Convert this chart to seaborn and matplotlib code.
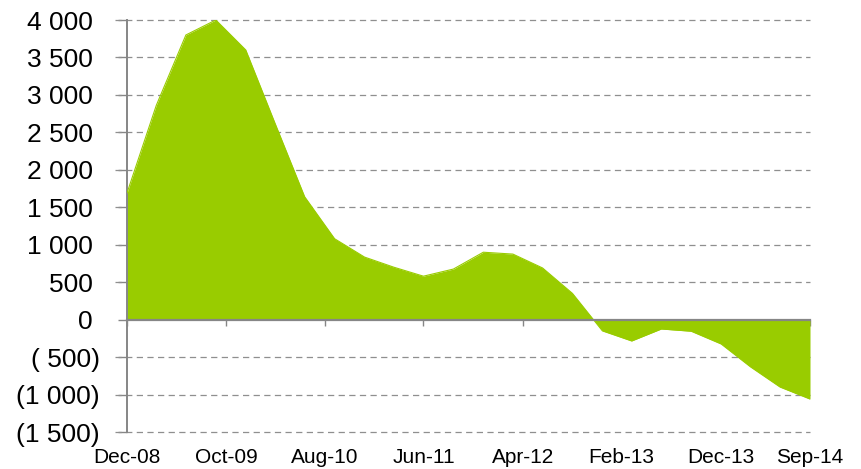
import matplotlib
matplotlib.use("Agg")
import matplotlib.pyplot as plt
import seaborn as sns
import pandas as pd

# ---- data ----
quarters = pd.date_range("2008-12-31", periods=24, freq="QE")
values = [1690, 2860, 3800, 4000, 3600, 2620, 1640, 1080, 835, 700, 580, 675,
          900, 875, 690, 350, -150, -285, -125, -155, -325, -630, -900, -1060]
xtick_dates = ["2008-12-31", "2009-10-31", "2010-08-31", "2011-06-30",
               "2012-04-30", "2013-02-28", "2013-12-31", "2014-09-30"]
xtick_labels = ["Dec-08", "Oct-09", "Aug-10", "Jun-11", "Apr-12", "Feb-13", "Dec-13", "Sep-14"]
ytick_values = [-1500, -1000, -500, 0, 500, 1000, 1500, 2000, 2500, 3000, 3500, 4000]
ytick_labels = ["(1 500)", "(1 000)", "( 500)", "0 ", "500 ", "1 000 ", "1 500 ", "2 000 ",
                "2 500 ", "3 000 ", "3 500 ", "4 000 "]

df = pd.DataFrame({"date": quarters, "value": values})

sns.set_theme(style="white")
plt.rcParams["font.family"] = ["Liberation Sans", "DejaVu Sans"]

GREEN = "#99CC00"
GRAY = "#868686"
GRID = "#8f8f8f"

fig = plt.figure(figsize=(8.62, 4.69), dpi=100)
ax = fig.add_axes([127 / 862, 1 - 432 / 469, (810 - 127) / 862, (432 - 20) / 469])

ax.fill_between(df["date"], df["value"], 0, color=GREEN, linewidth=0, zorder=2)
sns.lineplot(data=df, x="date", y="value", ax=ax, color=GREEN, linewidth=0.8, zorder=3)

ax.set_xlim(quarters[0], quarters[-1])
ax.set_ylim(-1500, 4000)

# gridlines (dashed), excluding zero
for v in ytick_values:
    if v != 0:
        ax.axhline(v, color=GRID, linestyle=(0, (5, 3.5)), linewidth=0.9, zorder=1,
                   xmin=-12 / 683, clip_on=False)

ax.set_yticks(ytick_values)
ax.set_yticklabels(ytick_labels)
ax.set_xticks(pd.to_datetime(xtick_dates))
ax.set_xticklabels(xtick_labels)

for s in ["top", "right"]:
    ax.spines[s].set_visible(False)
ax.spines["left"].set_color(GRAY)
ax.spines["left"].set_linewidth(1.4)
ax.spines["bottom"].set_position(("data", 0))
ax.spines["bottom"].set_color(GRAY)
ax.spines["bottom"].set_linewidth(1.6)
ax.spines["bottom"].set_zorder(4)

ax.tick_params(axis="y", which="both", left=True, length=6.5, width=1.0, color=GRAY,
               pad=13, labelsize=19, labelcolor="black")
ax.tick_params(axis="x", which="both", bottom=True, length=4.5, width=1.0, color=GRAY,
               direction="out", pad=88, labelsize=15, labelcolor="black")
ax.set_xlabel("")
ax.set_ylabel("")
ax.grid(False)

fig.savefig("out.png", dpi=100)
